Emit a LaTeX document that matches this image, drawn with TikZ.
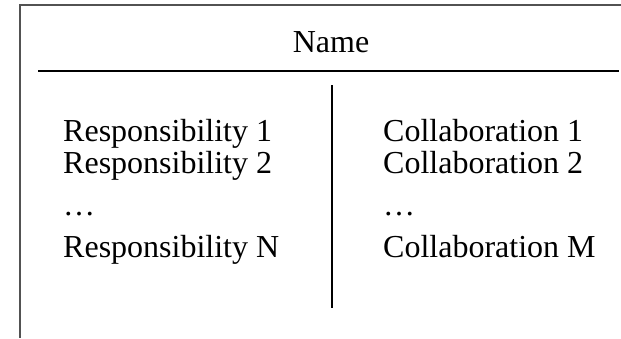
\documentclass[tikz,border=0pt]{standalone}
\usepackage{fontspec}
\setmainfont{Liberation Serif}
\begin{document}
\begin{tikzpicture}[x=1pt,y=-1pt,
  txt/.style={inner sep=0pt,anchor=base west,font=\fontsize{32}{38}\selectfont},
  frame/.style={draw=black!68,line width=2pt},
  rule/.style={draw=black,line width=2pt}]
\useasboundingbox (0,0) rectangle (621,338);
\coordinate (tl) at (20,5);
\coordinate (tr) at (621,5);
\coordinate (bl) at (20,338);
\draw[frame] (tr) -- (tl) -- (bl);
\coordinate (hl) at (38,71);
\coordinate (hr) at (619,71);
\draw[rule] (hl) -- (hr);
\coordinate (vt) at (332,85);
\coordinate (vb) at (332,308);
\draw[rule] (vt) -- (vb);
\node[txt,anchor=base] (name) at (331,52) {Name};
\node[txt] (r1) at (63,141) {Responsibility 1};
\node[txt] (r2) at (63,173) {Responsibility 2};
\node[txt] (r3) at (63,215) {…};
\node[txt] (r4) at (63,257) {Responsibility N};
\node[txt] (c1) at (383,141) {Collaboration 1};
\node[txt] (c2) at (383,173) {Collaboration 2};
\node[txt] (c3) at (383,215) {…};
\node[txt] (c4) at (383,257) {Collaboration M};
\end{tikzpicture}
\end{document}
